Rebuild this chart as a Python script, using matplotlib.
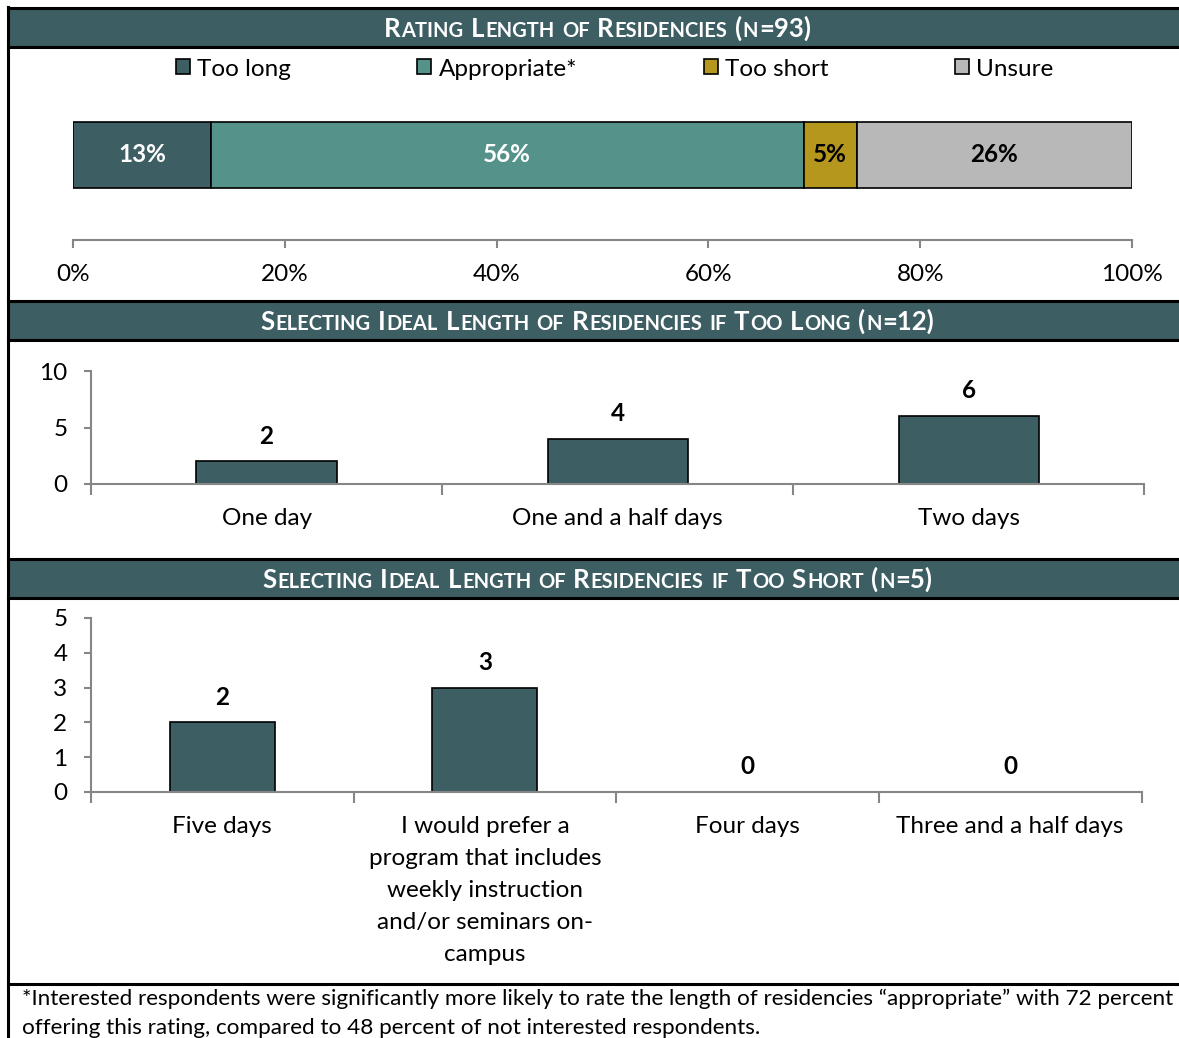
import numpy as np
import matplotlib.pyplot as plt
from matplotlib.patches import Rectangle
from matplotlib.lines import Line2D

plt.rcParams['font.family'] = ['Lato', 'DejaVu Sans']

W, H = 1179, 1038

rating_labels = ['Too long', 'Appropriate*', 'Too short', 'Unsure']
rating_pct = [13, 56, 5, 26]
rating_colors = ['#3d5e63', '#55928a', '#b5971e', '#b8b8b8']

long_labels = ['One day', 'One and a half days', 'Two days']
long_counts = [2, 4, 6]

short_labels = ['Five days',
                'I would prefer a\nprogram that includes\nweekly instruction\nand/or seminars on-\ncampus',
                'Four days', 'Three and a half days']
short_counts = [2, 3, 0, 0]

headers = ['Rating Length of Residencies (n=93)',
           'Selecting Ideal Length of Residencies if Too Long (n=12)',
           'Selecting Ideal Length of Residencies if Too Short (n=5)']

note = ('*Interested respondents were significantly more likely to rate the length of residencies '
        '\u201cappropriate\u201d with 72 percent\noffering this rating, compared to 48 percent of not '
        'interested respondents.')

DARK = '#3d5e63'
GRID = '#868686'
FS = 17.5

fig = plt.figure(figsize=(W / 100, H / 100), dpi=100)


def box(x0, y0, x1, y1):
    # pixel box (top-left origin) -> figure fraction rect
    return [x0 / W, 1 - y1 / H, (x1 - x0) / W, (y1 - y0) / H]


def hline(y, x0=8, x1=1200):
    fig.add_artist(Line2D([x0 / W, x1 / W], [1 - y / H, 1 - y / H], color='black', lw=2.2,
                          transform=fig.transFigure))


def smallcaps(xc, yb, s, big, small):
    r = fig.canvas.get_renderer()

    def width(txt, size):
        t = fig.text(0, 0, txt, fontsize=size, weight='bold')
        w = t.get_window_extent(r).width
        t.remove()
        return w

    sp = width('A A', big) - width('AA', big)
    pieces = []
    for i, word in enumerate(s.split(' ')):
        if i:
            pieces.append((None, None, sp))
        run, cur = '', None
        for ch in word:
            sz = small if ch.islower() else big
            if cur is None or sz == cur:
                run += ch
                cur = sz
            else:
                pieces.append((run.upper(), cur, width(run.upper(), cur) + 1))
                run, cur = ch, sz
        pieces.append((run.upper(), cur, width(run.upper(), cur) + 1))
    x = xc - sum(p[2] for p in pieces) / 2
    for txt, sz, adv in pieces:
        if txt:
            fig.text(x / W, 1 - yb / H, txt, fontsize=sz, weight='bold', color='white',
                     ha='left', va='baseline')
        x += adv


# header bands
for (y0, y1), title in zip([(9, 46), (302, 339), (560, 597)], headers):
    fig.add_artist(Rectangle((8 / W, 1 - y1 / H), (1200 - 8) / W, (y1 - y0) / H,
                             facecolor=DARK, edgecolor='none', transform=fig.transFigure))
    smallcaps(598, (y0 + y1) / 2 + 9.5, title, 18.5, 14.5)

for y in [8, 47, 301, 340, 559, 598, 984]:
    hline(y)
fig.add_artist(Line2D([8 / W, 8 / W], [1 - 7 / H, 0], color='black', lw=2.2, transform=fig.transFigure))

# panel 1: stacked bar
ax1 = fig.add_axes(box(73, 100, 1132, 240))
left = np.concatenate([[0], np.cumsum(rating_pct)[:-1]])
txt_colors = ['white', 'white', 'black', 'black']
for lab, val, lft, col, tc in zip(rating_labels, rating_pct, left, rating_colors, txt_colors):
    bars = ax1.barh(0, val, left=lft, height=0.6, color=col, edgecolor='black', lw=1.2, label=lab)
    ax1.bar_label(bars, labels=[f'{val}%'], label_type='center', color=tc, fontsize=FS, weight='bold')
ax1.set_xlim(0, 100)
ax1.set_ylim(-0.773, 0.5)
ax1.set_yticks([])
ax1.set_xticks(range(0, 101, 20))
ax1.set_xticklabels([f'{v}%' for v in range(0, 101, 20)])
for s in ['top', 'right', 'left']:
    ax1.spines[s].set_visible(False)
ax1.spines['bottom'].set_color(GRID)
ax1.spines['bottom'].set_linewidth(1.5)
ax1.tick_params(axis='x', colors=GRID, labelcolor='black', labelsize=FS, length=6, width=1.5, pad=11)
ax1.legend(loc='center', bbox_to_anchor=(614.5 / W, 1 - 69 / H), bbox_transform=fig.transFigure,
           ncol=4, frameon=False, fontsize=FS, handlelength=0.58, handleheight=0.58,
           handletextpad=0.3, columnspacing=5.2, borderpad=0, borderaxespad=0)


def column_panel(rect, labels, counts, ymax, ystep):
    ax = fig.add_axes(rect)
    x = np.arange(len(labels))
    bars = ax.bar(x, counts, width=0.4, color=DARK, edgecolor='black', lw=1.2)
    ax.bar_label(bars, fontsize=FS, weight='bold', padding=10)
    ax.set_xlim(-0.5, len(labels) - 0.5)
    ax.set_ylim(0, ymax)
    ax.set_yticks(np.arange(0, ymax + 1, ystep))
    ax.set_xticks(np.arange(len(labels) + 1) - 0.5)
    ax.set_xticklabels([])
    ax.set_xticks(x, minor=True)
    ax.set_xticklabels(labels, minor=True, linespacing=1.65, va='top')
    for s in ['top', 'right']:
        ax.spines[s].set_visible(False)
    for s in ['left', 'bottom']:
        ax.spines[s].set_color(GRID)
        ax.spines[s].set_linewidth(1.5)
    ax.tick_params(axis='x', which='major', colors=GRID, length=8, width=1.5)
    ax.tick_params(axis='x', which='minor', length=0, labelsize=FS, labelcolor='black', pad=17)
    ax.tick_params(axis='y', colors=GRID, labelcolor='black', labelsize=FS, length=5, width=1.5, pad=12)
    return ax


column_panel(box(91, 371, 1144.5, 484), long_labels, long_counts, 10, 5)
column_panel(box(91, 618, 1141.5, 792), short_labels, short_counts, 5, 1)

fig.text(22 / W, 1 - 1013.5 / H, note, fontsize=16.2, ha='left', va='center', linespacing=1.53)

fig.savefig('out.png', dpi=100)
